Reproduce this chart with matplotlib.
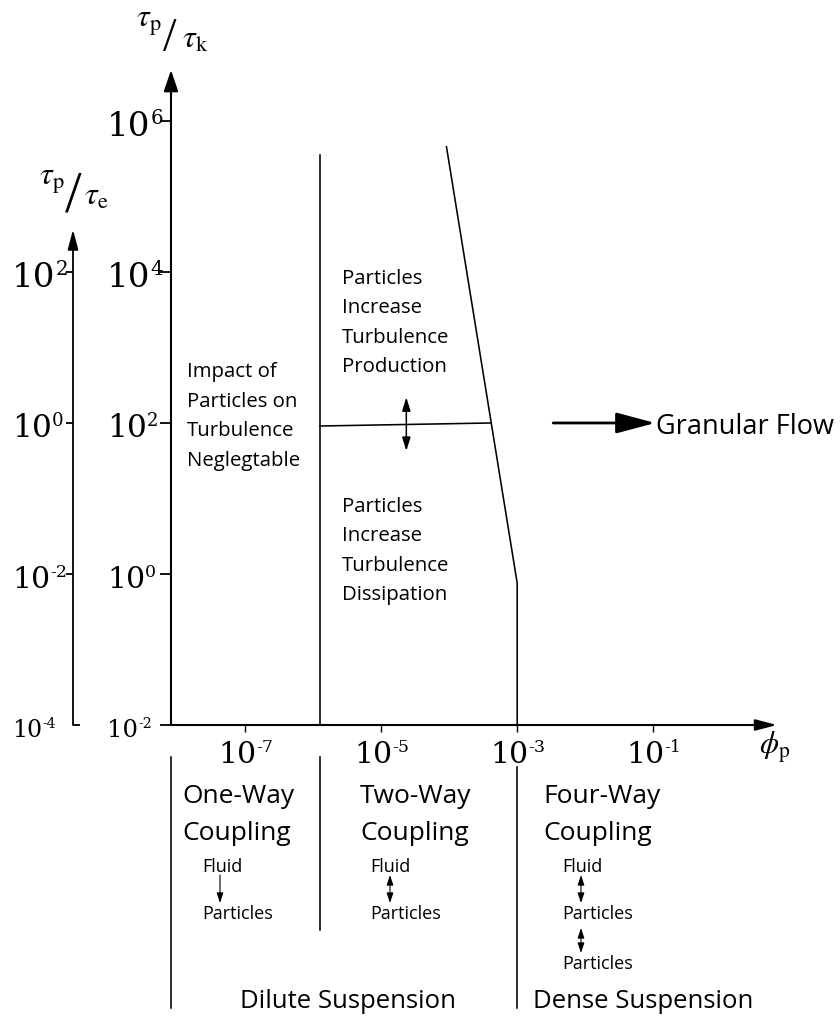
import numpy as np
import matplotlib
matplotlib.use("Agg")
import matplotlib.pyplot as plt
from matplotlib.transforms import blended_transform_factory, offset_copy

W, H, DPI = 840, 1017, 100
plt.rcParams["mathtext.fontset"] = "stix"
SANS = ["Open Sans", "DejaVu Sans"]
SERIF = ["DejaVu Serif"]

# ---- regime map values (log10 exponents) ----
phi_extent = [-8.09, 0.82]          # particle volume fraction axis
tk_extent = [-2.0, 6.675]           # tau_p / tau_k axis
te_offset = -2                      # tau_p / tau_e sits two decades below tau_p / tau_k
phi_ticks = [-7, -5, -3, -1]
tk_ticks = [6, 4, 2, 0, -2]
te_ticks = [2, 0, -2, -4]
te_top = 2.56                       # tip of the tau_p / tau_e arrow

one_way_edge = -5.9                 # one-way / two-way coupling boundary
one_way_top = 5.55
dense_edge = -3.0                   # dilute / dense boundary
collision_x = [-4.04, -3.0, -3.0]
collision_y = [5.66, -0.12, -2.0]
split_x = [-5.9, -3.39]             # production / dissipation divide
split_y = [1.96, 2.0]
toggle_x = -4.63
toggle_y = [1.63, 2.34]
granular_x = [-2.47, -0.97]
granular_y = 2.0

fig = plt.figure(figsize=(W / DPI, H / DPI), dpi=DPI)
fig.patch.set_facecolor("white")

# pixel overlay for free-standing annotations
ov = fig.add_axes([0, 0, 1, 1])
ov.set_xlim(0, W)
ov.set_ylim(H, 0)
ov.axis("off")

x0_px, x1_px, y0_px, y1_px = 171, 777, 725, 70
ax = fig.add_axes([x0_px / W, (H - y0_px) / H, (x1_px - x0_px) / W, (y0_px - y1_px) / H])
ax.patch.set_visible(False)
ax.set_xscale("log")
ax.set_yscale("log")
ax.set_xlim(10.0 ** phi_extent[0], 10.0 ** phi_extent[1])
ax.set_ylim(10.0 ** tk_extent[0], 10.0 ** tk_extent[1])
ax.autoscale(False)
for s in ax.spines.values():
    s.set_visible(False)
ax.set_xticks(10.0 ** np.array(phi_ticks))
ax.set_yticks(10.0 ** np.array(tk_ticks))
ax.minorticks_off()
ax.tick_params(axis="y", direction="out", length=8, width=1.3, labelleft=False)
ax.tick_params(axis="x", direction="out", length=5, width=1.0, labelbottom=False)

# secondary tau_p / tau_e scale: x in pixels, y in tau_p / tau_e
ax2 = fig.add_axes([0, (H - y0_px) / H, 1, (y0_px - y1_px) / H])
ax2.patch.set_visible(False)
ax2.set_xlim(0, W)
ax2.set_yscale("log")
ax2.set_ylim(10.0 ** (tk_extent[0] + te_offset), 10.0 ** (tk_extent[1] + te_offset))
ax2.autoscale(False)
ax2.axis("off")

LW = 1.15
# axes arrows
ax.annotate("", xy=(0, 1), xytext=(0, 0), xycoords="axes fraction",
            arrowprops=dict(arrowstyle="-|>,head_length=0.65,head_width=0.22",
                            mutation_scale=20, lw=1.5, color="black", shrinkA=0, shrinkB=0))
ax.annotate("", xy=(1, 0), xytext=(0, 0), xycoords="axes fraction",
            arrowprops=dict(arrowstyle="-|>,head_length=0.65,head_width=0.17",
                            mutation_scale=20, lw=1.5, color="black", shrinkA=0, shrinkB=0))
te_x = 73
ax2.annotate("", xy=(te_x, 10.0 ** te_top), xytext=(te_x, 10.0 ** te_ticks[-1]),
             arrowprops=dict(arrowstyle="-|>,head_length=0.6,head_width=0.16",
                             mutation_scale=20, lw=1.3, color="black", shrinkA=0, shrinkB=0))
te_tick_side = [-1, -1, -1, 1]
for v, side in zip(te_ticks, te_tick_side):
    ax2.plot([te_x, te_x + 7 * side], [10.0 ** v] * 2, color="black", lw=1.3,
             solid_capstyle="butt", clip_on=False)

# regime boundaries
ax.plot([10.0 ** one_way_edge] * 2, [10.0 ** tk_extent[0], 10.0 ** one_way_top],
        color="black", lw=LW, clip_on=False)
ax.plot(10.0 ** np.array(collision_x), 10.0 ** np.array(collision_y),
        color="black", lw=LW, clip_on=False)
ax.plot(10.0 ** np.array(split_x), 10.0 ** np.array(split_y),
        color="black", lw=LW, clip_on=False)
ax.annotate("", xy=(10.0 ** toggle_x, 10.0 ** toggle_y[1]),
            xytext=(10.0 ** toggle_x, 10.0 ** toggle_y[0]),
            arrowprops=dict(arrowstyle="<|-|>,head_length=0.45,head_width=0.14",
                            mutation_scale=18, lw=1.1, color="black", shrinkA=0, shrinkB=0))
ax.annotate("", xy=(10.0 ** granular_x[1], 10.0 ** granular_y),
            xytext=(10.0 ** granular_x[0], 10.0 ** granular_y),
            arrowprops=dict(arrowstyle="-|>,head_length=1.2,head_width=0.32",
                            mutation_scale=20, lw=2.0, color="black", shrinkA=0, shrinkB=0))
ov.text(656, 434, "Granular Flow", family=SANS, fontsize=19.5, ha="left", va="baseline")

# region descriptions
def block(x, y0, pitch, lines, size):
    for i, s in enumerate(lines):
        ov.text(x, y0 + i * pitch, s, family=SANS, fontsize=size, ha="left", va="baseline")

block(187, 377, 29.7, ["Impact of", "Particles on", "Turbulence", "Neglegtable"], 14.7)
block(342, 284, 29.3, ["Particles", "Increase", "Turbulence", "Production"], 14.7)
block(342, 512, 29.3, ["Particles", "Increase", "Turbulence", "Dissipation"], 14.7)

# power-of-ten labels
def power_label(trans, x, y, exp, size, dx=0.0, dy=0.0):
    em = size * DPI / 72
    t = offset_copy(trans, fig=fig, x=dx, y=-dy, units="dots")
    ov.text(x, y, "10", transform=t, family=SERIF, fontsize=size,
            ha="left", va="baseline")
    t2 = offset_copy(trans, fig=fig, x=dx + 2 * 0.636 * em,
                     y=-dy + 0.36 * em, units="dots")
    ov.text(x, y, str(exp), transform=t2, family=SERIF, fontsize=size * 0.58,
            ha="left", va="baseline")

tk_sizes = [24.5, 24.5, 22.5, 21.5, 17.5]
te_sizes = [24.5, 22.5, 21.5, 17.0]
ytrans = blended_transform_factory(ov.transData, ax.transData)
for v, sz in zip(tk_ticks, tk_sizes):
    power_label(ytrans, 107, 10.0 ** v, v, sz, dy=0.3645 * sz * DPI / 72 + 3)
ytrans2 = blended_transform_factory(ov.transData, ax2.transData)
for v, sz in zip(te_ticks, te_sizes):
    power_label(ytrans2, 12, 10.0 ** v, v, sz, dy=0.3645 * sz * DPI / 72 + 3)
xtrans = blended_transform_factory(ax.transData, ov.transData)
for v in phi_ticks:
    power_label(xtrans, 10.0 ** v, 763, v, 21.5, dx=-27)

# axis titles
ov.text(136, 27, r"$\tau_{\mathrm{p}}$", fontsize=23, ha="left", va="baseline")
ov.text(163, 51, "/", family=["Liberation Serif"], fontsize=35, ha="left", va="baseline")
ov.text(182, 48, r"$\tau_{\mathrm{k}}$", fontsize=23, ha="left", va="baseline")
ov.text(39, 185, r"$\tau_{\mathrm{p}}$", fontsize=23, ha="left", va="baseline")
ov.text(65, 212, "/", family=["Liberation Serif"], fontsize=43, ha="left", va="baseline")
ov.text(84, 205, r"$\tau_{\mathrm{e}}$", fontsize=23, ha="left", va="baseline")
ov.text(759, 754, r"$\phi_{\mathrm{p}}$", fontsize=22, ha="left", va="baseline")

# coupling regimes below the axis
ax.plot([10.0 ** phi_extent[0]] * 2, [757, 1008], transform=xtrans, color="black",
        lw=LW, clip_on=False)
ax.plot([10.0 ** one_way_edge] * 2, [757, 930], transform=xtrans, color="black",
        lw=LW, clip_on=False)
ax.plot([10.0 ** dense_edge] * 2, [767, 1008], transform=xtrans, color="black",
        lw=LW, clip_on=False)

for x, name in [(182, "One-Way"), (360, "Two-Way"), (543, "Four-Way")]:
    ov.text(x, 803, name, family=SANS, fontsize=19, ha="left", va="baseline")
    ov.text(x, 840, "Coupling", family=SANS, fontsize=19, ha="left", va="baseline")

small = dict(family=SANS, fontsize=13, ha="left", va="baseline")
ov.text(202, 872, "Fluid", **small)
ov.text(202, 919, "Particles", **small)
ov.text(370, 872, "Fluid", **small)
ov.text(370, 919, "Particles", **small)
ov.text(562, 872, "Fluid", **small)
ov.text(562, 919, "Particles", **small)
ov.text(562, 969, "Particles", **small)

def small_arrow(x, ya, yb, style):
    ov.annotate("", xy=(x, yb), xytext=(x, ya),
                arrowprops=dict(arrowstyle=style, mutation_scale=10, lw=0.8,
                                color="black", shrinkA=0, shrinkB=0))

small_arrow(220, 875, 903, "-|>,head_length=0.6,head_width=0.2")
small_arrow(390, 875, 903, "<|-|>,head_length=0.6,head_width=0.2")
small_arrow(581, 875, 903, "<|-|>,head_length=0.6,head_width=0.2")
small_arrow(581, 928, 953, "<|-|>,head_length=0.6,head_width=0.2")

ov.text(240, 1008, "Dilute Suspension", family=SANS, fontsize=18.5, ha="left", va="baseline")
ov.text(533, 1008, "Dense Suspension", family=SANS, fontsize=18.5, ha="left", va="baseline")

fig.savefig("out.png", dpi=DPI, facecolor="white")
